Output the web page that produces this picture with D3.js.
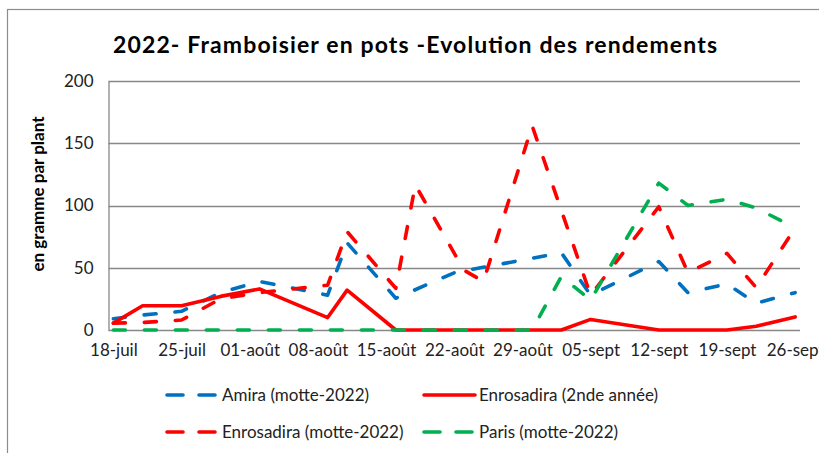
<!DOCTYPE html>
<html>
<head>
<meta charset="utf-8">
<script src="https://cdn.jsdelivr.net/npm/d3@7"></script>
<style>
  html, body { margin: 0; padding: 0; background: #fff; overflow: hidden; }
  text { font-family: Lato, "Open Sans", sans-serif; }
</style>
</head>
<body>
<main></main>
<script>
var width = 819;
var height = 453;

// harvest dates (2022)
var dates = ['2022-07-18', '2022-07-21', '2022-07-25', '2022-07-29', '2022-08-02',
  '2022-08-09', '2022-08-11', '2022-08-16', '2022-08-18', '2022-08-22',
  '2022-08-23', '2022-08-25', '2022-08-30', '2022-09-02', '2022-09-05',
  '2022-09-12', '2022-09-15', '2022-09-19', '2022-09-22', '2022-09-26'];

// g per plant, null = no reading (line is joined across)
var amira = [9, 12, 15, 30, 39, 28, 70, 25.5, null, 46, null, null, null, 62, 28, 55, 30, 37, 21.5, 30];
var enroAn2 = [5.5, 19.5, 19.5, 27, 33, 10, 32, 0, 0, 0, 0, 0, 0, 0, 8.5, 0, 0, 0, 3, 10.5];
var enroMotte = [5.5, 6, 8, 25, 30, 36, 79, 33.5, 116.5, null, 48, 39, 164, null, 28, 99, 46, 61.5, 34, 82];
var paris = [0, 0, 0, 0, 0, 0, 0, 0, 0, 0, 0, 0, 0, 43, 24, 118, 100, 105, 98, 82];

var tickDates = ['2022-07-18', '2022-07-25', '2022-08-01', '2022-08-08', '2022-08-15',
  '2022-08-22', '2022-08-29', '2022-09-05', '2022-09-12', '2022-09-19', '2022-09-26'];
var yTicks = [0, 50, 100, 150, 200];
var moisFr = ['janv', 'févr', 'mars', 'avr', 'mai', 'juin', 'juil', 'août', 'sept', 'oct', 'nov', 'déc'];

var series = [
  { name: 'Amira (motte-2022)', values: amira, color: '#0070C0', dashed: true },
  { name: 'Enrosadira (2nde année)', values: enroAn2, color: '#FF0000', dashed: false },
  { name: 'Enrosadira (motte-2022)', values: enroMotte, color: '#FF0000', dashed: true },
  { name: 'Paris (motte-2022)', values: paris, color: '#00B050', dashed: true }
];

var parse = d3.utcParse('%Y-%m-%d');
var halfDay = 12 * 3600 * 1000;

var plotLeft = 108.5, plotRight = 800, plotTop = 81, plotBottom = 330;

// date axis, each day sits in the middle of its slot
var x = d3.scaleUtc()
  .domain([parse('2022-07-18'), parse('2022-09-27')])
  .range([plotLeft, plotRight]);
var y = d3.scaleLinear().domain([0, 200]).range([plotBottom, plotTop]);
function xd(s) { return x(new Date(parse(s).getTime() + halfDay)); }

var svg = d3.select('main').append('svg')
  .attr('width', width)
  .attr('height', height);

svg.append('rect')
  .attr('width', width)
  .attr('height', height)
  .attr('fill', '#fff');

// chart frame (runs off the picture right and bottom)
svg.append('rect')
  .attr('x', 7.5).attr('y', 9.5)
  .attr('width', width + 20).attr('height', height + 20)
  .attr('fill', 'none')
  .attr('stroke', '#8c8c8c')
  .attr('stroke-width', 1.2);

svg.append('text')
  .attr('x', 113).attr('y', 53)
  .attr('font-size', '23px')
  .attr('font-weight', 'bold')
  .attr('fill', '#000')
  .attr('textLength', 604)
  .attr('lengthAdjust', 'spacing')
  .text('2022- Framboisier en pots -Evolution des rendements');

// grid
svg.append('g').selectAll('line')
  .data(yTicks)
  .enter().append('line')
  .attr('x1', plotLeft).attr('x2', plotRight)
  .attr('y1', function(d) { return Math.round(y(d)) + 0.5; })
  .attr('y2', function(d) { return Math.round(y(d)) + 0.5; })
  .attr('stroke', '#888')
  .attr('stroke-width', 1.3);

var yAxis = svg.append('g')
  .attr('transform', 'translate(' + plotLeft + ',0)')
  .call(d3.axisLeft(y).tickValues(yTicks).tickSize(0).tickPadding(15));
yAxis.select('.domain').attr('stroke', '#888').attr('stroke-width', 1.3);
yAxis.selectAll('text').attr('font-size', '17px').attr('fill', '#222').attr('font-family', 'Lato');

var xAxis = svg.append('g')
  .attr('transform', 'translate(0,' + plotBottom + ')')
  .call(d3.axisBottom(x)
    .tickValues(tickDates.map(function(s) { return new Date(parse(s).getTime() + halfDay); }))
    .tickSize(0).tickPadding(14)
    .tickFormat(function(d) {
      return d3.utcFormat('%d')(d) + '-' + moisFr[d.getUTCMonth()];
    }));
xAxis.select('.domain').remove();
xAxis.selectAll('text').attr('font-size', '17px').attr('fill', '#222').attr('font-family', 'Lato');

svg.append('text')
  .attr('transform', 'translate(44,' + 194 + ') rotate(-90)')
  .attr('text-anchor', 'middle')
  .attr('font-size', '17px')
  .attr('font-weight', 'bold')
  .attr('fill', '#000')
  .text('en gramme par plant');

var line = d3.line()
  .x(function(d) { return xd(d.date); })
  .y(function(d) { return y(d.v); });

series.forEach(function(s) {
  var pts = dates.map(function(dt, i) { return { date: dt, v: s.values[i] }; })
    .filter(function(d) { return d.v != null; });
  svg.append('path')
    .datum(pts)
    .attr('d', line)
    .attr('fill', 'none')
    .attr('stroke', s.color)
    .attr('stroke-width', 3.6)
    .attr('stroke-linejoin', 'round')
    .attr('stroke-linecap', 'round')
    .attr('stroke-dasharray', s.dashed ? '12,19' : null);
});

// legend, 2 x 2
var legendPos = [[167, 395], [424, 395], [167, 432], [424, 432]];
series.forEach(function(s, i) {
  var p = legendPos[i];
  svg.append('line')
    .attr('x1', p[0]).attr('x2', p[0] + 51)
    .attr('y1', p[1]).attr('y2', p[1])
    .attr('stroke', s.color)
    .attr('stroke-width', 3.6)
    .attr('stroke-linecap', 'round')
    .attr('stroke-dasharray', s.dashed ? '16,16' : null);
  svg.append('text')
    .attr('x', p[0] + 55).attr('y', p[1] + 6)
    .attr('font-size', '17px')
    .attr('fill', '#222')
    .text(s.name);
});
</script>
</body>
</html>
